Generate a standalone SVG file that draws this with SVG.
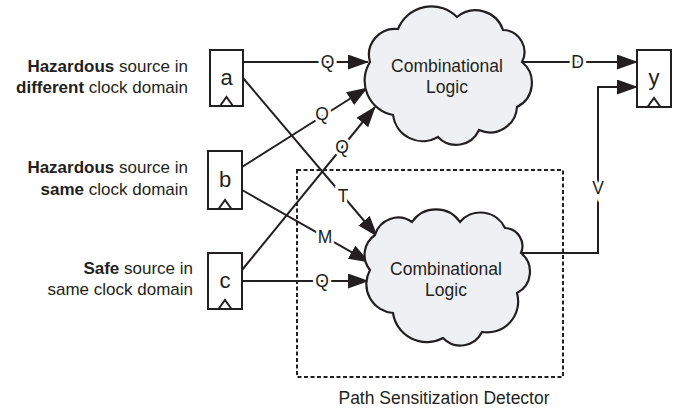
<svg xmlns="http://www.w3.org/2000/svg" width="675" height="411" viewBox="0 0 675 411">
<style>
text{font-family:"Liberation Sans",Arial,sans-serif;fill:#231f20}
.lbl{font-size:17.5px}
.side{font-size:17px;text-anchor:end}
.ff{font-size:22px;text-anchor:middle}
.ct{font-size:17.5px;text-anchor:middle}
.el{font-size:17.5px;text-anchor:middle;paint-order:stroke;stroke:#fff;stroke-width:6px}
.box{fill:#fff;stroke:#231f20;stroke-width:2}
.clk{fill:none;stroke:#231f20;stroke-width:2}
.cloud{fill:#eff0f3;stroke:#231f20;stroke-width:2.2}
.w{fill:none;stroke:#231f20;stroke-width:2}
.arr{marker-end:url(#ah)}
b{font-weight:bold}
</style>
<defs>
<marker id="ah" markerUnits="userSpaceOnUse" markerWidth="22" markerHeight="16" refX="20" refY="7.5" orient="auto">
<path d="M0,0 L21,7.5 L0,15 z" fill="#231f20"/>
</marker>
</defs>
<rect x="0" y="0" width="675" height="411" fill="#fff"/>

<g id="detector">
<rect x="297" y="170" width="266" height="207" fill="none" stroke="#231f20" stroke-width="2" stroke-dasharray="4 2.5"/>
<text class="lbl" x="444" y="404" text-anchor="middle">Path Sensitization Detector</text>
</g>

<g id="connectors">
<path class="w arr" d="M243,62 H368"/>
<path class="w arr" d="M242,167 L367,88"/>
<path class="w arr" d="M242,270 L375,107"/>
<path class="w arr" d="M243,78 L377,236"/>
<path class="w arr" d="M242,190 L369,262"/>
<path class="w arr" d="M242,281 H368"/>
<path class="w arr" d="M522,62 H637"/>
<path class="w arr" d="M521,253 H598 V87 H637"/>
<text class="el" x="327.5" y="68">Q</text>
<text class="el" x="322" y="120">Q</text>
<text class="el" x="342" y="153">Q</text>
<text class="el" x="343" y="202">T</text>
<text class="el" x="325" y="243">M</text>
<text class="el" x="322" y="287">Q</text>
<text class="el" x="577.5" y="68">D</text>
<text class="el" x="598" y="194">V</text>
</g>

<g id="logic-top">
<path class="cloud" d="M370,62 A26,26 0 0 1 398,29 A36,36 0 0 1 457,17 A29,29 0 0 1 503,30 A22,22 0 0 1 522,62 A27,27 0 0 1 517,107 A27,27 0 0 1 479,130 A25,25 0 0 1 438,137 A30,30 0 0 1 393,115 A35,35 0 0 1 370,62 Z"/>
<text class="ct" x="447" y="72">Combinational</text>
<text class="ct" x="447" y="93">Logic</text>
</g>

<g id="logic-bottom">
<path class="cloud" d="M375,235 A24,24 0 0 1 412,222 A29,29 0 0 1 460,222 A27,27 0 0 1 505,228 A18,18 0 0 1 521,253 A24,24 0 0 1 517,293 A31,31 0 0 1 482,332 A24,24 0 0 1 443,338 A34,34 0 0 1 393,313 A29,29 0 0 1 370,270 A24,24 0 0 1 375,235 Z"/>
<text class="ct" x="446" y="275">Combinational</text>
<text class="ct" x="446" y="296">Logic</text>
</g>

<g id="ff-a">
<rect class="box" x="210" y="50" width="33" height="56"/>
<path class="clk" d="M220,106 L226.5,97 L233,106"/>
<text class="ff" x="226.5" y="85">a</text>
<text class="side" x="188" y="72"><tspan font-weight="bold">Hazardous</tspan> source in</text>
<text class="side" x="188" y="93"><tspan font-weight="bold">different</tspan> clock domain</text>
</g>

<g id="ff-b">
<rect class="box" x="208" y="151" width="34" height="58"/>
<path class="clk" d="M218.5,209 L225,200 L231.5,209"/>
<text class="ff" x="225" y="187">b</text>
<text class="side" x="188" y="173"><tspan font-weight="bold">Hazardous</tspan> source in</text>
<text class="side" x="188" y="195"><tspan font-weight="bold">same</tspan> clock domain</text>
</g>

<g id="ff-c">
<rect class="box" x="208" y="253" width="34" height="56"/>
<path class="clk" d="M218.5,309 L225,300 L231.5,309"/>
<text class="ff" x="225" y="288">c</text>
<text class="side" x="193" y="274"><tspan font-weight="bold">Safe</tspan> source in</text>
<text class="side" x="193" y="295">same clock domain</text>
</g>

<g id="ff-y">
<rect class="box" x="637" y="50" width="34" height="57"/>
<path class="clk" d="M647.5,107 L654,98 L660.5,107"/>
<text class="ff" x="654" y="85">y</text>
</g>
</svg>
